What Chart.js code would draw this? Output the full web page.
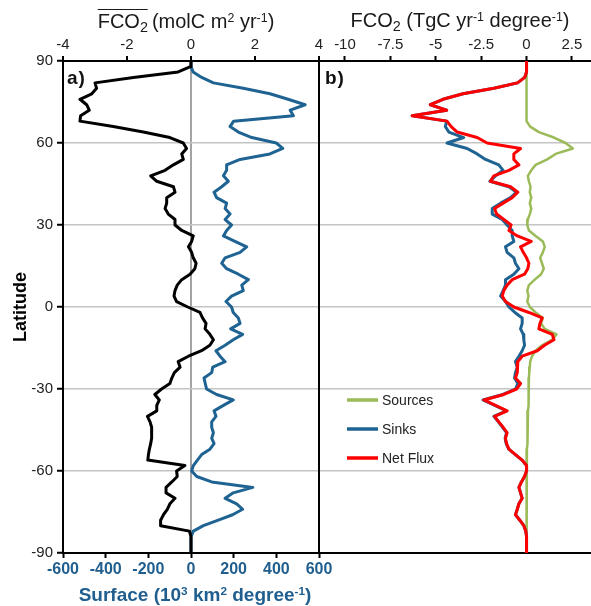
<!DOCTYPE html>
<html>
<head>
<meta charset="utf-8">
<script src="https://cdn.jsdelivr.net/npm/chart.js@4.4.0/dist/chart.umd.min.js"></script>
<style>
  html, body { margin: 0; padding: 0; background: #fff; }
  #wrap { position: relative; width: 591px; height: 606px; overflow: hidden; font-family: "Liberation Sans", Arial, sans-serif; }
  canvas { position: absolute; left: 0; top: 0; }
  .t { position: absolute; white-space: nowrap; color: #1a1a1a; }
  .t sub { font-size: 0.72em; position: relative; top: 0.28em; vertical-align: baseline; line-height: 0; }
  .t sup { font-size: 0.62em; position: relative; top: -0.5em; vertical-align: baseline; line-height: 0; }
  .ov { position: relative; display: inline; }
  .ov::before { content: ""; position: absolute; left: 0; right: 0; top: -1px; border-top: 1.6px solid #1a1a1a; }
  #ta { left: 186px; top: 10px; font-size: 20px; line-height: 22px; transform: translateX(-50%); }
  #tb { left: 460px; top: 9px; font-size: 20px; line-height: 22px; transform: translateX(-50%); }
  #tx { left: 195px; top: 584px; font-size: 19px; line-height: 21px; font-weight: bold; transform: translateX(-50%); color: #1F5E8E; }
  .pl { font-size: 19px; line-height: 20px; font-weight: bold; color: #111; letter-spacing: 1px; top: 68px; }
  #pa { left: 67px; }
  #pb { left: 325px; }
</style>
</head>
<body>
<div id="wrap">
  <canvas id="cA" width="591" height="606"></canvas>
  <canvas id="cB" width="591" height="606"></canvas>
  <div class="t" id="ta"><span class="ov">FCO<sub>2</sub></span>&#8201;(molC m<sup>2</sup> yr<sup>-1</sup>)</div>
  <div class="t" id="tb">FCO<sub>2</sub> (TgC yr<sup>-1</sup> degree<sup>-1</sup>)</div>
  <div class="t" id="tx">Surface (10<sup>3</sup> km<sup>2</sup> degree<sup>-1</sup>)</div>
  <div class="t pl" id="pa">a)</div>
  <div class="t pl" id="pb">b)</div>
</div>
<script>
// ---------------- DATA ----------------
const latitude = [
  90, 88, 86, 84, 82, 80, 78, 76, 74, 72,
  70, 68, 66, 64, 62, 60, 58, 56, 54, 52,
  50, 48, 46, 44, 42, 40, 38, 36, 34, 32,
  30, 28, 26, 24, 22, 20, 18, 16, 14, 12,
  10, 8, 6, 4, 2, 0, -2, -4, -6, -8,
  -10, -12, -14, -16, -18, -20, -22, -24, -26, -28,
  -30, -32, -34, -36, -38, -40, -42, -44, -46, -48,
  -50, -52, -54, -56, -58, -60, -62, -64, -66, -68,
  -70, -72, -74, -76, -78, -80, -82, -84, -86, -88,
  -90
];

// Panel a: mean FCO2 (molC m-2 yr-1), top axis
const fco2Mean = [
  0, 0, -0.4, -1.8, -3.0, -2.95, -3.1, -3.47, -3.26, -3.18,
  -3.45, -3.47, -2.43, -1.49, -0.66, -0.24, -0.14, -0.29, -0.24, -0.55,
  -0.81, -1.26, -1.07, -0.55, -0.5, -0.76, -0.76, -0.81, -0.71, -0.5,
  -0.5, -0.29, 0.07, 0.02, -0.08, 0.02, 0.07, 0.16, 0.12, -0.03,
  -0.29, -0.43, -0.5, -0.53, -0.45, -0.1, 0.28, 0.36, 0.47, 0.44,
  0.59, 0.7, 0.59, 0.33, -0.08, -0.4, -0.34, -0.52, -0.6, -0.66,
  -0.92, -1.13, -0.99, -1.07, -1.07, -1.36, -1.28, -1.23, -1.23, -1.23,
  -1.26, -1.3, -1.33, -1.35, -0.19, -0.45, -0.43, -0.6, -0.78, -0.78,
  -0.5, -0.66, -0.74, -0.86, -0.95, -0.95, -0.05, 0, 0, 0,
  0
];

// Panel a: ocean surface (10^3 km2 degree-1), bottom axis
const surface = [
  0, 0, 10, 50, 105, 245, 370, 455, 535, 465,
  480, 200, 183, 222, 285, 400, 430, 370, 230, 167,
  167, 152, 175, 144, 108, 120, 167, 160, 183, 160,
  190, 167, 152, 206, 261, 230, 160, 144, 167, 222,
  269, 238, 245, 190, 164, 190, 198, 222, 230, 186,
  242, 198, 160, 117, 136, 160, 102, 97, 61, 67,
  73, 120, 198, 152, 108, 117, 97, 97, 105, 97,
  108, 89, 50, 30, 11, 3, 27, 97, 290, 198,
  160, 214, 242, 195, 128, 58, 11, 0, 0, 0,
  0
];

// Panel b: FCO2 (TgC yr-1 degree-1)
const sources = [
  0, 0, 0, 0, 0, 0, 0, 0, 0, 0,
  0, 0, 0.2, 0.68, 1.51, 2.15, 2.55, 1.6, 1.14, 0.5,
  0.26, 0.07, 0.13, 0.22, 0.18, 0.26, 0.18, 0.26, 0.18, 0.07,
  0.04, 0.13, 0.5, 0.9, 1.0, 0.9, 0.75, 0.85, 0.95, 0.8,
  0.45, 0.13, 0.04, 0.11, 0.04, 0.18, 0.5, 0.9, 0.8, 1.0,
  1.65, 1.4, 0.85, 0.5, 0.3, 0.2, 0.18, 0.15, 0.13, 0.13,
  0.13, 0.1, 0.1, 0.1, 0.08, 0.08, 0.05, 0.05, 0.05, 0.04,
  0.04, 0.02, 0.02, 0.02, 0, 0, 0, 0, 0, 0,
  0, 0, 0, 0, 0, 0, 0, 0, 0, 0,
  0
];

const sinks = [
  0, 0, 0, -0.1, -0.5, -1.8, -3.5, -4.6, -5.3, -4.4,
  -6.3, -4.4, -4.47, -4.28, -3.46, -4.38, -3.27, -2.72, -2.26, -1.53,
  -1.29, -1.71, -2.02, -0.97, -0.55, -0.88, -1.43, -1.89, -1.89, -1.34,
  -1.07, -0.79, -0.79, -0.7, -1.16, -1.07, -0.7, -0.61, -0.42, -0.7,
  -1.16, -1.16, -1.29, -1.43, -1.16, -0.97, -0.64, -0.24, -0.24, -0.33,
  -0.18, -0.15, -0.11, -0.24, -0.42, -0.61, -0.51, -0.61, -0.66, -0.48,
  -0.61, -1.3, -2.4, -1.75, -1.1, -1.8, -1.55, -1.32, -1.1, -1.18,
  -1.12, -0.98, -0.62, -0.25, 0, 0, -0.11, -0.28, -0.42, -0.33,
  -0.24, -0.42, -0.51, -0.61, -0.37, -0.15, -0.04, 0, 0, 0,
  0
];

const netFlux = [
  0, 0, 0, -0.1, -0.5, -1.8, -3.5, -4.6, -5.3, -4.4,
  -6.3, -4.38, -4.15, -3.82, -2.72, -2.17, -0.33, -0.7, -0.7, -0.42,
  -0.97, -1.8, -1.99, -0.88, -0.48, -0.79, -1.29, -1.76, -1.65, -1.25,
  -0.85, -0.97, -0.51, 0.26, -0.33, -0.18, 0, 0.13, 0.07, -0.11,
  -0.79, -1.07, -1.25, -1.34, -1.16, -0.7, 0.13, 0.86, 0.74, 0.68,
  1.42, 1.51, 0.99, 0.59, -0.24, -0.48, -0.51, -0.51, -0.61, -0.33,
  -0.55, -1.25, -2.35, -1.71, -1.07, -1.76, -1.53, -1.29, -1.07, -1.16,
  -1.1, -0.97, -0.61, -0.24, 0, 0, -0.11, -0.28, -0.42, -0.33,
  -0.24, -0.42, -0.51, -0.61, -0.37, -0.15, -0.04, 0, 0, 0,
  0
];

const latTicks = { min: -90, max: 90, step: 30 };
const fco2Ticks = { min: -4, max: 4, step: 2 };
const surfaceTicks = { min: -600, max: 600, step: 200 };
const panelBTicks = { min: -11.43, max: 3.55, step: 2.5 };
const legendLabels = ['Sources', 'Sinks', 'Net Flux'];

// ---------------- STYLE ----------------
const BLUE = '#1F6392';
const BLUE_TXT = '#1F5E8E';
const GREEN = '#9BBB59';
const RED = '#FF0000';
const GRID = '#c4c4c4';
const TICK_TXT = '#222';

Chart.defaults.font.family = '"Liberation Sans", Arial, sans-serif';
Chart.defaults.font.size = 15;

function pts(values) {
  return latitude.map((lat, i) => ({ x: values[i], y: lat }));
}
function lineDs(label, values, color, width, xAxisID) {
  return {
    label, data: pts(values), xAxisID, yAxisID: 'y',
    borderColor: color, backgroundColor: color, borderWidth: width,
    showLine: true, pointRadius: 0, pointHoverRadius: 0, fill: false, tension: 0,
    borderJoinStyle: 'round', borderCapStyle: 'round'
  };
}
const yGridColor = ctx => (ctx.tick && Math.abs(ctx.tick.value) === 90) ? 'rgba(0,0,0,0)' : GRID;

// ---------------- PANEL A ----------------
new Chart(document.getElementById('cA'), {
  type: 'scatter',
  data: {
    datasets: [
      lineDs('FCO2', fco2Mean, '#000000', 3, 'xTop'),
      lineDs('Surface', surface, BLUE, 3, 'xBottom')
    ]
  },
  options: {
    responsive: false, animation: false, events: [],
    layout: { padding: { left: 0, right: 272, top: 0, bottom: 0 } },
    plugins: { legend: { display: false }, tooltip: { enabled: false } },
    scales: {
      xTop: {
        type: 'linear', position: 'top',
        min: fco2Ticks.min, max: fco2Ticks.max,
        ticks: { stepSize: fco2Ticks.step, color: TICK_TXT, padding: 2 },
        grid: {
          drawOnChartArea: true,
          color: ctx => (ctx.tick && ctx.tick.value === 0) ? '#a3a3a3' : 'rgba(0,0,0,0)',
          lineWidth: 2, tickColor: '#000', tickLength: 5, tickWidth: 2
        },
        border: { color: '#000', width: 2 },
        afterFit: s => { s.height = 61; }
      },
      xBottom: {
        type: 'linear', position: 'bottom',
        min: surfaceTicks.min, max: surfaceTicks.max,
        ticks: { stepSize: surfaceTicks.step, color: BLUE_TXT, padding: 2, font: { size: 16, weight: 'bold' } },
        grid: { drawOnChartArea: false, tickColor: '#000', tickLength: 5, tickWidth: 2 },
        border: { color: '#000', width: 2 },
        afterFit: s => { s.height = 53; }
      },
      y: {
        type: 'linear', position: 'left',
        min: latTicks.min, max: latTicks.max,
        ticks: { stepSize: latTicks.step, color: TICK_TXT, padding: 4 },
        grid: { color: yGridColor, lineWidth: 1.5, tickColor: '#000', tickLength: 6, tickWidth: 2 },
        border: { color: '#000', width: 2 },
        title: { display: true, text: 'Latitude', color: '#000', font: { size: 18, weight: 'bold' }, padding: { top: 10, bottom: 0 } },
        afterFit: s => { s.width = 63; }
      },
      yR: {
        type: 'linear', position: 'right',
        min: latTicks.min, max: latTicks.max,
        ticks: { display: false },
        grid: { display: false, drawTicks: false },
        border: { color: '#000', width: 2 },
        afterFit: s => { s.width = 0; }
      }
    }
  }
});

// ---------------- PANEL B ----------------
const legendPlugin = {
  id: 'panelLegend',
  afterDatasetsDraw(chart, args, opts) {
    const { ctx, chartArea } = chart;
    ctx.save();
    ctx.font = '14px "Liberation Sans", Arial, sans-serif';
    ctx.textBaseline = 'middle';
    ctx.textAlign = 'left';
    opts.labels.forEach((label, i) => {
      const ds = chart.data.datasets.find(d => d.label === label);
      const x = chartArea.left + opts.left;
      const y = chartArea.top + opts.top + i * opts.gap;
      ctx.strokeStyle = ds.borderColor;
      ctx.lineWidth = 3.5;
      ctx.lineCap = 'butt';
      ctx.beginPath();
      ctx.moveTo(x, y);
      ctx.lineTo(x + 31, y);
      ctx.stroke();
      ctx.fillStyle = '#222';
      ctx.fillText(label, x + 35, y + 1);
    });
    ctx.restore();
  }
};

new Chart(document.getElementById('cB'), {
  type: 'scatter',
  data: {
    datasets: [
      lineDs('Net Flux', netFlux, RED, 3, 'xTop'),
      lineDs('Sinks', sinks, BLUE, 3, 'xTop'),
      lineDs('Sources', sources, GREEN, 2.5, 'xTop')
    ]
  },
  plugins: [legendPlugin],
  options: {
    responsive: false, animation: false, events: [],
    layout: { padding: { left: 319, right: 0, top: 0, bottom: 0 } },
    plugins: {
      legend: { display: false }, tooltip: { enabled: false },
      panelLegend: { labels: legendLabels, left: 28, top: 339, gap: 29 }
    },
    scales: {
      xTop: {
        type: 'linear', position: 'top',
        min: panelBTicks.min, max: panelBTicks.max,
        ticks: { stepSize: panelBTicks.step, includeBounds: false, color: TICK_TXT, padding: 2 },
        grid: { drawOnChartArea: false, tickColor: '#000', tickLength: 5, tickWidth: 2 },
        border: { color: '#000', width: 2 },
        afterFit: s => { s.height = 61; }
      },
      xBot: {
        type: 'linear', position: 'bottom',
        min: panelBTicks.min, max: panelBTicks.max,
        ticks: { display: false },
        grid: { display: false, drawTicks: false },
        border: { color: '#000', width: 2 },
        afterFit: s => { s.height = 53; }
      },
      y: {
        type: 'linear', position: 'left',
        min: latTicks.min, max: latTicks.max,
        ticks: { display: false, stepSize: latTicks.step },
        grid: { color: yGridColor, lineWidth: 1.5, drawTicks: false },
        border: { color: '#000', width: 2 },
        afterFit: s => { s.width = 0; }
      }
    }
  }
});
</script>
</body>
</html>
